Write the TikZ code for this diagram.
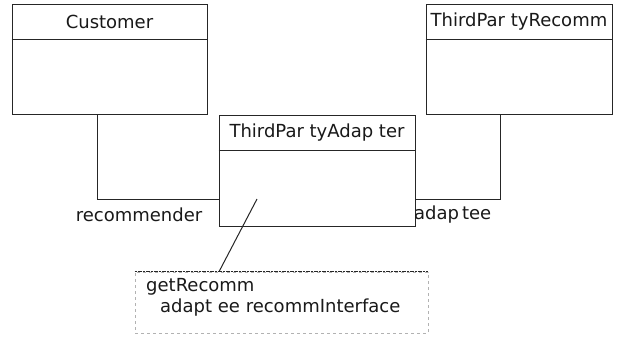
\documentclass[tikz,border=0pt]{standalone}
\usepackage{fontspec}
\setmainfont{DejaVu Sans}
\usetikzlibrary{calc}
\tikzset{
  cls/.style={draw=black!85, line width=1pt, inner sep=0pt, fill=white},
  lbl/.style={inner sep=0pt, font=\fontsize{18}{21}\selectfont, text=black!90},
  conn/.style={draw=black!85, line width=1pt},
}
\begin{document}
\begin{tikzpicture}[x=1pt,y=-1pt]
\useasboundingbox (0,0) rectangle (622,338);
% classes
\node[cls, minimum width=195pt, minimum height=110pt] (cust) at (109.5,59) {};
\draw[conn] ([yshift=-36pt]cust.north west) -- ([yshift=-36pt]cust.north east);
\node[lbl] (custt) at (109.5,22) {Customer};

\node[cls, minimum width=186pt, minimum height=110pt] (rec) at (519,59) {};
\draw[conn] ([yshift=-36pt]rec.north west) -- ([yshift=-36pt]rec.north east);
\node[lbl] (rect) at (519,22) {ThirdPar tyRecomm};

\node[cls, minimum width=196pt, minimum height=111pt] (adapt) at (317,170.5) {};
\draw[conn] ([yshift=-36pt]adapt.north west) -- ([yshift=-36pt]adapt.north east);
\node[lbl] (adaptt) at (317,133) {ThirdPar tyAdap ter};

% connectors
\draw[conn] ([xshift=-12.5pt]cust.south) |- ([yshift=-28.5pt]adapt.west);
\draw[conn] ([xshift=-19pt]rec.south) |- ([yshift=-28.5pt]adapt.east);
\node[lbl] (rl) at (139,215) {recommender};
\node[lbl, anchor=west] (al) at (414,215) {adap\hspace{3pt}tee};

% note
\node[draw=black!30, dashed, line width=0.6pt, minimum width=293pt, minimum height=61pt, inner sep=0pt] (note) at (281.5,302.5) {};
\draw[black!85, line width=1pt, dash pattern=on 2pt off 1pt on 4pt off 1pt] (note.north west) -- (note.north east);
\node[lbl, anchor=base west] (n1) at (146,291) {getRecomm};
\node[lbl, anchor=base west] (n2) at (160,312) {adapt ee recommInterface};
\coordinate (nc) at (257,199);
\draw[conn] (nc) -- ([xshift=-62.5pt]note.north);
\end{tikzpicture}
\end{document}
